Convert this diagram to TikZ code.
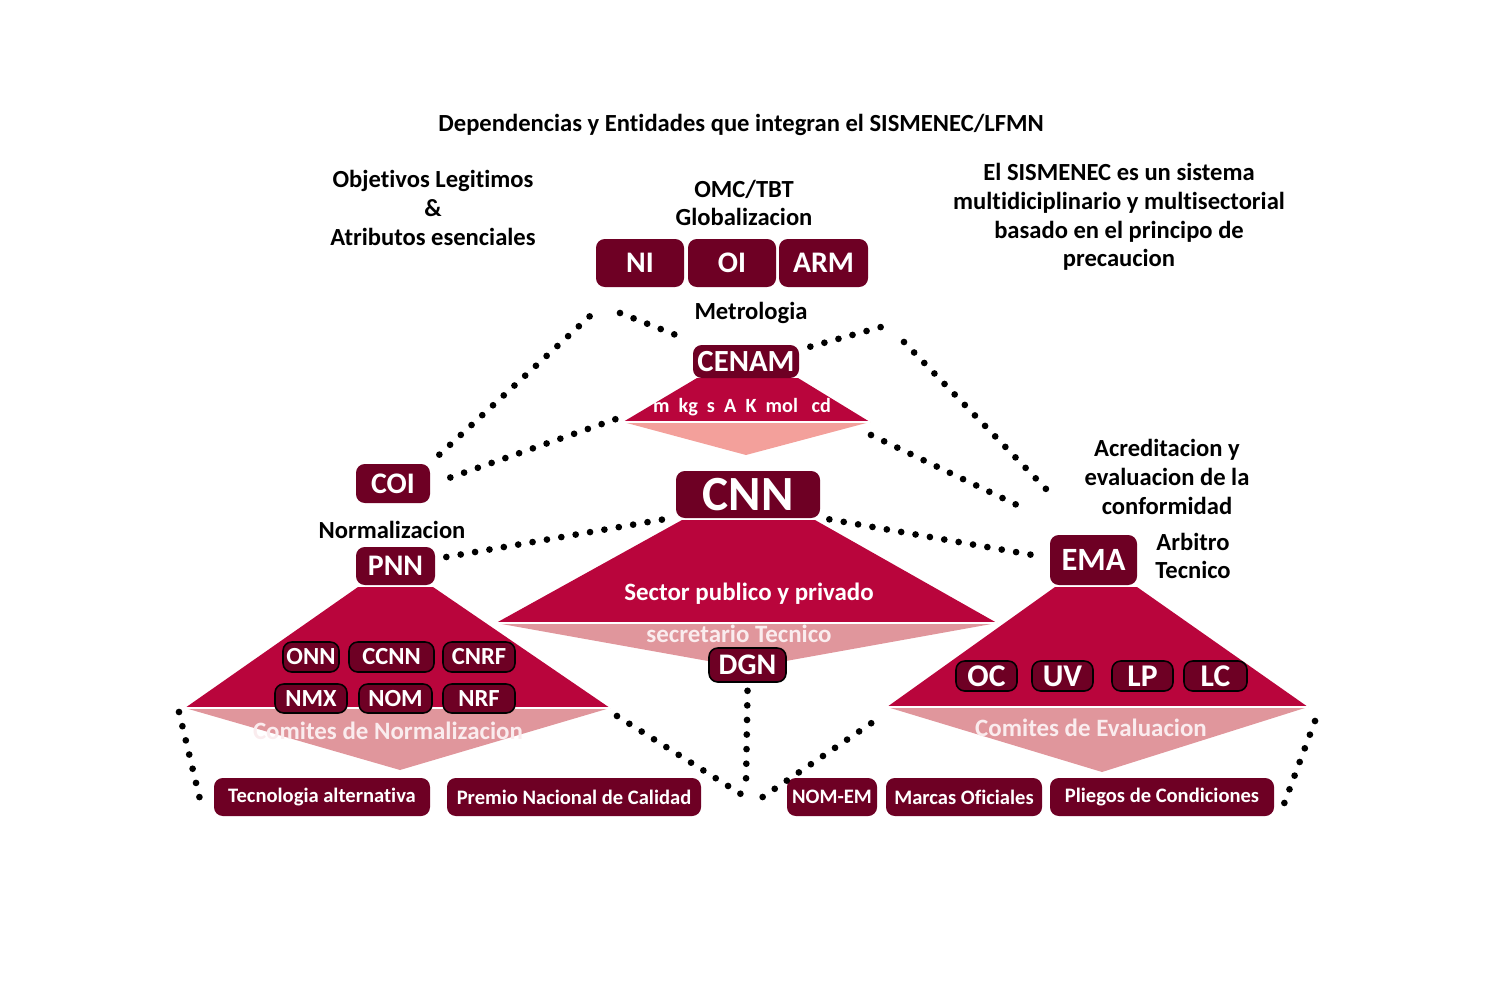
\documentclass[tikz,border=0pt]{standalone}
\usepackage{fontspec}
\setmainfont{Carlito}[Ligatures=NoCommon]
\usepackage{xcolor}
\definecolor{boxred}{RGB}{110,0,36}
\definecolor{crimson}{RGB}{185,5,60}
\definecolor{lowpink}{RGB}{224,150,156}
\definecolor{salmon}{RGB}{243,160,155}
\definecolor{pinktext}{RGB}{250,236,238}

\begin{document}
\begin{tikzpicture}[x=0.02cm,y=-0.02cm,
		lbl/.style={font=\fontsize{14}{16.3}\selectfont\bfseries, align=center},
		box/.style 2 args={fill=boxred, rounded corners=5pt, text=white, inner sep=0pt,
			minimum width=#1*0.02cm, minimum height=#2*0.02cm},
		sub/.style 2 args={box={#1}{#2}, draw=black, line width=0.9pt},
		dots/.style={line width=3.8pt, line cap=round, dash pattern=on 0pt off 8.3pt},
		midf/.style={font=\fontsize{17}{20}\selectfont\bfseries},
		smallf/.style={font=\fontsize{11.7}{14}\selectfont\bfseries}]
		\useasboundingbox (0,0) rectangle (1500,1000);
		% text labels
		\node[lbl] (title) at (741,125) {Dependencias y Entidades que integran el SISMENEC/LFMN};
		\node[lbl] (obj) at (433,208) {Objetivos Legitimos\\ \&\\ Atributos esenciales};
		\node[lbl] (omc) at (744,203) {OMC/TBT\\ Globalizacion};
		\node[lbl] (sis) at (1119,217) {El SISMENEC es un sistema\\ multidiciplinario y multisectorial\\ basado en el principo de\\ precaucion};
		\node[lbl] (metro) at (751,313) {Metrologia};
		\node[lbl] (norm) at (392,530) {Normalizacion};
		\node[lbl] (acre) at (1167,477) {Acreditacion y\\ evaluacion de la\\ conformidad};
		\node[lbl] (arb) at (1193,556) {Arbitro\\ Tecnico};
		% pyramids
		\fill[crimson] (697,378) -- (798,378) -- (870,422) -- (623,422) -- cycle;
		\fill[salmon] (623,422) -- (870,422) -- (746,455) -- cycle;
		\draw[white, line width=0.6pt] (623,422) -- (870,422);
		\fill[crimson] (682,520) -- (815,520) -- (997,623) -- (496,623) -- cycle;
		\fill[lowpink] (496,623) -- (997,623) -- (747,668) -- cycle;
		\draw[white, line width=0.6pt] (496,623) -- (997,623);
		\fill[crimson] (358,587) -- (433,587) -- (610,708) -- (185,708) -- cycle;
		\fill[lowpink] (185,708) -- (610,708) -- (400,770) -- cycle;
		\draw[white, line width=0.6pt] (185,708) -- (610,708);
		\fill[crimson] (1055,587) -- (1137,587) -- (1308,707) -- (887,707) -- cycle;
		\fill[lowpink] (887,707) -- (1308,707) -- (1102,772) -- cycle;
		\draw[white, line width=0.6pt] (887,707) -- (1308,707);
		\coordinate (cenL) at (616,419);
		\coordinate (cenR) at (871,435);
		\coordinate (pnnL) at (179,712);
		\coordinate (pnnR) at (617,716);
		\coordinate (emaL) at (873,722);
		\coordinate (emaR) at (1315,721);
		\node[font=\fontsize{11.5}{13}\selectfont\bfseries, text=white] (units) at (742,407) {m\ \ kg\ \ s\ \ A\ \ K\ \ mol\ \ \ cd};
		\node[font=\fontsize{14.2}{16}\selectfont\bfseries, text=white] (sector) at (749,594) {Sector publico y privado};
		\node[font=\fontsize{14.2}{16}\selectfont\bfseries, text=pinktext] (secre) at (739,634) {secretario Tecnico};
		\node[font=\fontsize{14.2}{16}\selectfont\bfseries, text=pinktext] (cnorm) at (388,731) {Comites de Normalizacion};
		\node[font=\fontsize{14.2}{16}\selectfont\bfseries, text=pinktext] (ceval) at (1091,728) {Comites de Evaluacion};
		% boxes
		\foreach \name/\x/\w in {NI/640/88, OI/732/88, ARM/823.5/89}
		{
			\node[box={\w}{48}, midf] (\name) at (\x,263) {\name};
		}
		\node[box={106}{33}, font=\fontsize{17.5}{20}\selectfont\bfseries] (CENAM) at (746,361.5) {CENAM};
		\node[box={74}{39}, midf] (COI) at (393,483.5) {COI};
		\node[box={144}{47}, font=\fontsize{28}{32}\selectfont\bfseries] (CNN) at (748,494.5) {CNN};
		\node[box={79}{38}, midf] (PNN) at (395.5,566) {PNN};
		\node[sub={77}{34}, midf] (DGN) at (747.5,665) {DGN};
		\node[box={87}{50}, font=\fontsize{18.5}{21}\selectfont\bfseries] (EMA) at (1093.5,560) {EMA};
		\foreach \name/\x/\w in {ONN/311/56, CCNN/391.5/85, CNRF/479/72}
		{
			\node[sub={\w}{30}, font=\fontsize{14}{16}\selectfont\bfseries] (\name) at (\x,657) {\name};
		}
		\foreach \name/\x/\w in {NMX/311/72, NOM/395.5/73, NRF/479/72}
		{
			\node[sub={\w}{29}, font=\fontsize{14}{16}\selectfont\bfseries] (\name) at (\x,698.5) {\name};
		}
		\foreach \name/\x/\w in {OC/986.5/61, UV/1062.5/61, LP/1142.5/61, LC/1215.5/63}
		{
			\node[sub={\w}{30}, font=\fontsize{18}{21}\selectfont\bfseries] (\name) at (\x,676) {\name};
		}
		\node[box={216}{38}, smallf] (tec) at (322,797) {Tecnologia alternativa};
		\node[box={254}{38}, smallf] (premio) at (574,797) {Premio Nacional de Calidad};
		\node[box={90}{38}, smallf] (nomem) at (832,797) {NOM-EM};
		\node[box={156}{38}, smallf] (marcas) at (964,797) {Marcas Oficiales};
		\node[box={224}{38}, smallf] (pliegos) at (1162,797) {Pliegos de Condiciones};
		% dotted links
		\coordinate (tl) at (590,316);
		\coordinate (tm) at (620,313);
		\coordinate (tr) at (881,327);
		\coordinate (trr) at (904,342);
		\coordinate (acr) at (1047,490);
		\coordinate (acl) at (1017,505);
		\coordinate (meet) at (744,796);
		\coordinate (dgnb) at (746,782);
		\draw[dots] ([shift={(9,-9)}]COI.north east) -- (tl);
		\draw[dots] (tm) -- ([shift={(-5,-5)}]CENAM.north west);
		\draw[dots] ([shift={(20,-6)}]COI.east) -- (cenL);
		\draw[dots] ([shift={(11,2)}]CENAM.north east) -- (tr);
		\draw[dots] (trr) -- (acr);
		\draw[dots] (cenR) -- (acl);
		\draw[dots] ([shift={(11,-9)}]PNN.east) -- ([shift={(-12,1)}]CNN.south west);
		\draw[dots] ([shift={(9,1)}]CNN.south east) -- ([shift={(-17,-5)}]EMA.west);
		\draw[dots] (pnnL) -- ([shift={(-14,1)}]tec.west);
		\draw[dots] (pnnR) -- (meet);
		\draw[dots] ([shift={(0,8)}]DGN.south) -- (dgnb);
		\draw[dots] ([shift={(-24,0)}]nomem.west) -- (emaL);
		\draw[dots] (emaR) -- ([shift={(10,6)}]pliegos.east);
	\end{tikzpicture}
\end{document}
